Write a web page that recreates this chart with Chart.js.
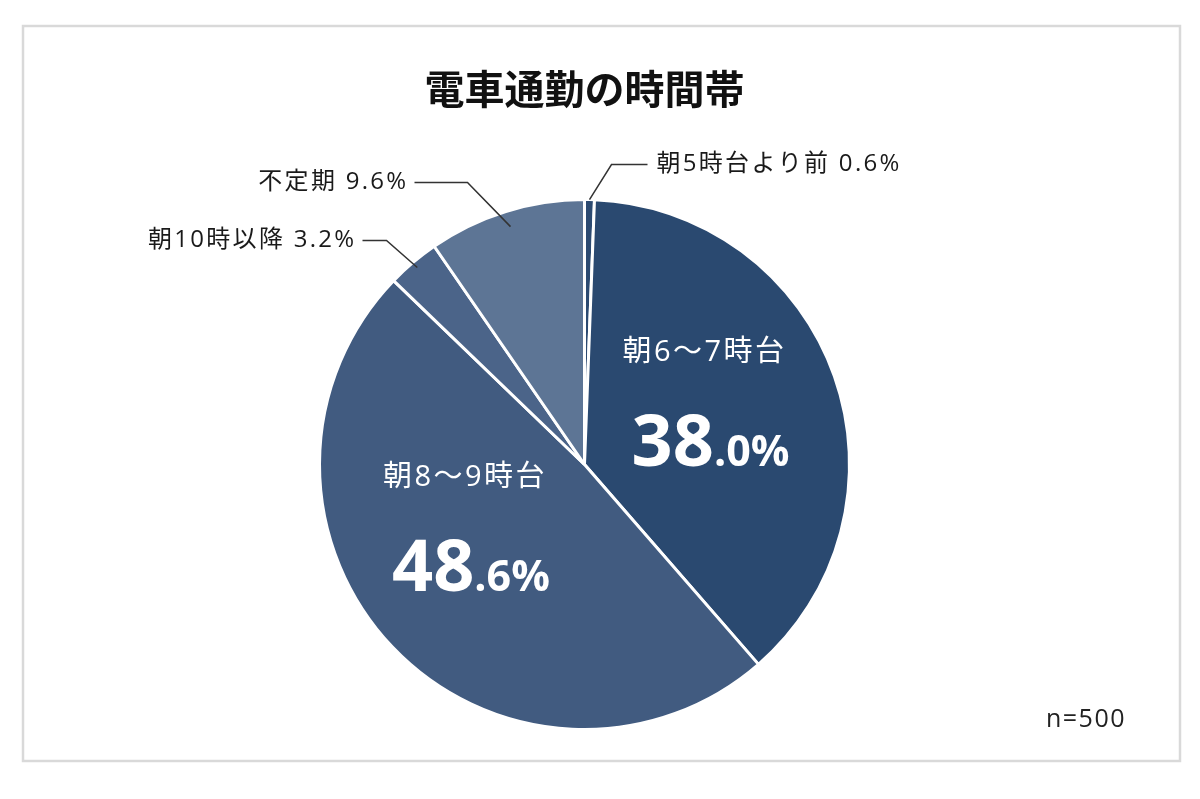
<!DOCTYPE html>
<html lang="ja">
<head>
  <meta charset="UTF-8" />
  <title>電車通勤の時間帯</title>
  <style>
    html, body { margin: 0; padding: 0; background: #fff; }
    #wrap { width: 1200px; height: 799px; }
  </style>
</head>
<body>

  <div id="wrap"><canvas id="commuteChart" width="1200" height="799"></canvas></div>

  <script src="https://cdn.jsdelivr.net/npm/chart.js"></script>
  <script>
    // データ
    const categories = ['朝5時台より前', '朝6～7時台', '朝8～9時台', '朝10時以降', '不定期'];
    const shares = [0.6, 38.0, 48.6, 3.2, 9.6];
    const sliceColors = ['#2c4a71', '#2a4970', '#415b80', '#4b6489', '#5d7595'];
    const titleText = '電車通勤の時間帯';
    const sampleNote = 'n=500';

    const FONT = '"Noto Sans CJK JP", "Noto Sans", sans-serif';
    const LABEL_FONT = '"Open Sans", "Noto Sans CJK JP", sans-serif';

    // ラベル配置 (円の中心・半径からの相対)
    const insideLabels = {
      1: { shift: -10, dist: 0.52, dx: 6 },
      2: { shift: 18, dist: 0.50, dx: 6 }
    };
    const outsideLabels = {
      0: { r: 1.0, elbow: [27, -300], endX: 63, side: 'right' },
      3: { r: 0.975, elbow: [-198, -224], endX: -222, side: 'left' },
      4: { r: 0.94, elbow: [-117, -282], endX: -170, side: 'left' }
    };

    function fmt(v) { return v.toFixed(1) + '%'; }

    const framePlugin = {
      id: 'frame',
      beforeDraw(chart) {
        const ctx = chart.ctx;
        ctx.save();
        ctx.fillStyle = '#fff';
        ctx.fillRect(0, 0, chart.width, chart.height);
        ctx.strokeStyle = '#d9d9d9';
        ctx.lineWidth = 2.5;
        ctx.strokeRect(23, 26, 1157, 735);
        ctx.restore();
      },
      afterDraw(chart) {
        const ctx = chart.ctx;
        ctx.save();
        ctx.fillStyle = '#222';
        ctx.font = '25px ' + LABEL_FONT;
        ctx.letterSpacing = '1.5px';
        ctx.textAlign = 'right';
        ctx.textBaseline = 'middle';
        ctx.fillText(sampleNote, 1126, 720);
        ctx.restore();
      }
    };

    const labelPlugin = {
      id: 'sliceLabels',
      afterDatasetsDraw(chart) {
        const ctx = chart.ctx;
        const meta = chart.getDatasetMeta(0);
        meta.data.forEach((arc, i) => {
          const p = arc.getProps(['x', 'y', 'startAngle', 'endAngle', 'outerRadius'], true);
          const mid = (p.startAngle + p.endAngle) / 2;
          ctx.save();
          if (insideLabels[i]) {
            const L = insideLabels[i];
            const a = mid + L.shift * Math.PI / 180;
            const cx = p.x + Math.cos(a) * p.outerRadius * L.dist;
            const cy = p.y + Math.sin(a) * p.outerRadius * L.dist;
            ctx.fillStyle = '#fff';
            ctx.textBaseline = 'middle';
            ctx.textAlign = 'center';
            ctx.font = '29px ' + LABEL_FONT;
            ctx.letterSpacing = '2.5px';
            ctx.fillText(categories[i], cx, cy - 44);
            ctx.letterSpacing = '0px';
            const txt = fmt(shares[i]);
            const big = txt.split('.')[0];
            const small = '.' + txt.split('.')[1];
            ctx.textAlign = 'left';
            ctx.textBaseline = 'alphabetic';
            ctx.font = 'bold 72px ' + LABEL_FONT;
            const wb = ctx.measureText(big).width;
            ctx.font = 'bold 43px ' + LABEL_FONT;
            const ws = ctx.measureText(small).width;
            const x0 = cx + L.dx - (wb + ws) / 2;
            const base = cy + 69;
            ctx.font = 'bold 72px ' + LABEL_FONT;
            ctx.fillText(big, x0, base);
            ctx.font = 'bold 43px ' + LABEL_FONT;
            ctx.fillText(small, x0 + wb, base);
          } else if (outsideLabels[i]) {
            const L = outsideLabels[i];
            const sx = p.x + Math.cos(mid) * p.outerRadius * L.r;
            const sy = p.y + Math.sin(mid) * p.outerRadius * L.r;
            const ex = p.x + L.elbow[0];
            const ey = p.y + L.elbow[1];
            const tx = p.x + L.endX;
            ctx.strokeStyle = '#333';
            ctx.lineWidth = 1.5;
            ctx.beginPath();
            ctx.moveTo(sx, sy);
            ctx.lineTo(ex, ey);
            ctx.lineTo(tx, ey);
            ctx.stroke();
            ctx.fillStyle = '#1a1a1a';
            ctx.font = '24px ' + LABEL_FONT;
            ctx.letterSpacing = '2.3px';
            ctx.textBaseline = 'middle';
            const txt = categories[i] + ' ' + fmt(shares[i]);
            if (L.side === 'right') {
              ctx.textAlign = 'left';
              ctx.fillText(txt, tx + 9, ey);
            } else {
              ctx.textAlign = 'right';
              ctx.fillText(txt, tx - 6, ey);
            }
          }
          ctx.restore();
        });
      }
    };

    new Chart(document.getElementById('commuteChart'), {
      type: 'pie',
      data: {
        labels: categories,
        datasets: [{
          data: shares,
          backgroundColor: sliceColors,
          borderColor: '#ffffff',
          borderWidth: 3,
          radius: 265
        }]
      },
      options: {
        responsive: false,
        animation: false,
        events: [],
        layout: {
          padding: { top: 50, bottom: 50, left: 300, right: 331 }
        },
        plugins: {
          legend: { display: false },
          tooltip: { enabled: false },
          title: {
            display: true,
            text: titleText,
            color: '#111',
            font: { family: FONT, size: 40, weight: 'bold' },
            padding: { top: 15, bottom: 67 }
          }
        }
      },
      plugins: [framePlugin, labelPlugin]
    });
  </script>

</body>
</html>
